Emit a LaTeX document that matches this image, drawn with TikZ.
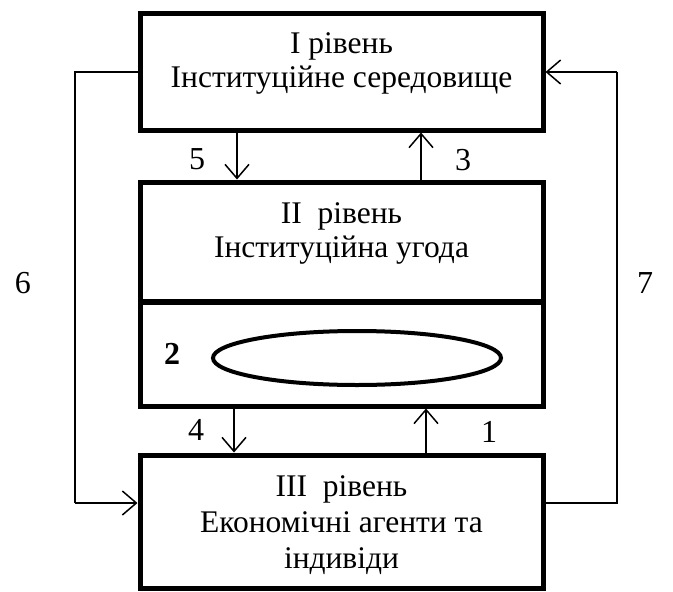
\documentclass[tikz,border=0pt]{standalone}
\usepackage{fontspec}
\setmainfont{Liberation Serif}
\usetikzlibrary{arrows.meta}
\begin{document}
\begin{tikzpicture}[x=1pt,y=-1pt,
  level/.style={draw,line width=5pt,minimum width=403pt,inner sep=0pt},
  conn/.style={line width=1.5pt,-{Straight Barb[length=14pt,width=24pt,line width=1.5pt]}},
  line/.style={line width=1.5pt},
  lbl/.style={font=\fontsize{32}{34}\selectfont},
  txt/.style={font=\fontsize{31.5}{34}\selectfont,anchor=base,inner sep=0pt}]
\useasboundingbox (0,0) rectangle (673,592);
% three levels
\node[level,minimum height=117pt] (top) at (341.5,71.5) {};
\node[level,minimum height=120pt] (mid) at (341.5,242) {};
\node[level,minimum height=105pt] (sub) at (341.5,353.5) {};
\node[level,minimum height=133pt] (bot) at (341.5,521.5) {};
% texts, one node per line
\node[txt] (t1a) at (341.5,53) {І рівень};
\node[txt] (t1b) at (341.5,87) {Інституційне середовище};
\node[txt] (t2a) at (341.5,223) {ІІ\ \ рівень};
\node[txt] (t2b) at (341.5,257) {Інституційна угода};
\node[txt] (t3a) at (341.5,496) {ІІІ\ \ рівень};
\node[txt] (t3b) at (341.5,532) {Економічні агенти та};
\node[txt] (t3c) at (341.5,568) {індивіди};
% ellipse in the lower part of level II
\draw[line width=4pt] (357,358) ellipse (144pt and 27pt);
\node[font=\fontsize{32}{34}\selectfont\bfseries] (n2) at (172,354) {2};
% vertical links
\coordinate (a5) at (237,0);
\coordinate (a3) at (421,0);
\coordinate (a4) at (234,0);
\coordinate (a1) at (426,0);
\draw[conn] (a5 |- top.south) -- (a5 |- mid.north);
\draw[conn] (a3 |- mid.north) -- (a3 |- top.south);
\draw[conn] (a4 |- sub.south) -- (a4 |- bot.north);
\draw[conn] (a1 |- bot.north) -- (a1 |- sub.south);
% outer loops
\coordinate (l6) at (75,0);
\coordinate (r7) at (617,0);
\coordinate (yt) at (0,72);
\coordinate (yb) at (0,503);
\draw[line] (top.west |- yt) -- (l6 |- yt) -- (l6 |- yb);
\draw[conn] (l6 |- yb) -- (bot.west |- yb);
\draw[line] (bot.east |- yb) -- (r7 |- yb) -- (r7 |- yt);
\draw[conn] (r7 |- yt) -- (top.east |- yt);
% labels
\node[lbl] (n5) at (197,159) {5};
\node[lbl] (n3) at (463,160) {3};
\node[lbl] (n4) at (196,430) {4};
\node[lbl] (n1) at (489,432) {1};
\node[lbl] (n6) at (23,283) {6};
\node[lbl] (n7) at (645,283) {7};
\end{tikzpicture}
\end{document}
